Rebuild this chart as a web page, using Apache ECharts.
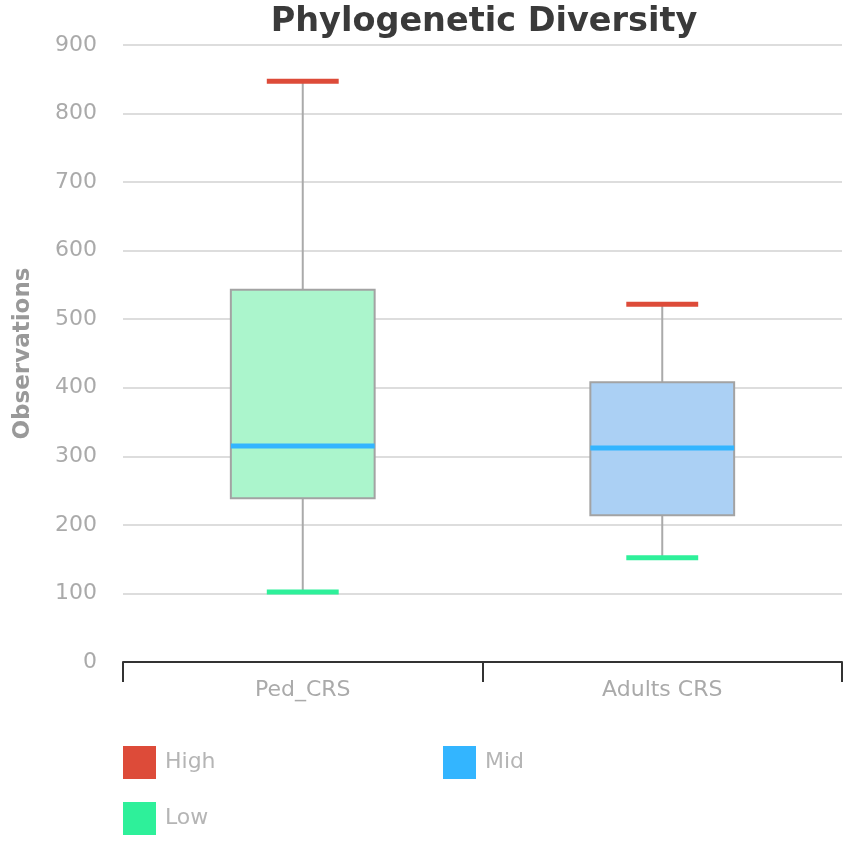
<!DOCTYPE html>
<html>
<head>
<meta charset="utf-8">
<script src="https://cdn.jsdelivr.net/npm/echarts@6/dist/echarts.min.js"></script>
<style>html,body{margin:0;padding:0;background:#fff}#c{width:843px;height:841px}</style>
</head>
<body>
<div id="c"></div>
<script>
const categories = ['Ped_CRS', 'Adults CRS'];
const highValues = [847, 522];
const q3Values = [543, 408];
const medianValues = [315, 312];
const q1Values = [239, 214];
const lowValues = [102, 152];
const yTicks = [0, 100, 200, 300, 400, 500, 600, 700, 800, 900];

const boxFills = ['#abf5cc', '#abd0f4'];
const FONT = '"DejaVu Sans", Verdana, sans-serif';

const chart = echarts.init(document.getElementById('c'));

const boxData = categories.map((c, i) => [i, lowValues[i], q1Values[i], q3Values[i], highValues[i]]);

function renderBox(params, api) {
  const i = api.value(0);
  const pLow = api.coord([i, api.value(1)]);
  const pQ1 = api.coord([i, api.value(2)]);
  const pQ3 = api.coord([i, api.value(3)]);
  const pHigh = api.coord([i, api.value(4)]);
  const w = api.size([1, 0])[0] * 0.4;
  const x = pLow[0];
  return {
    type: 'group',
    children: [
      { type: 'line', shape: { x1: x, y1: pHigh[1], x2: x, y2: pQ3[1] }, style: { stroke: '#aaaaaa', lineWidth: 2 } },
      { type: 'line', shape: { x1: x, y1: pQ1[1], x2: x, y2: pLow[1] }, style: { stroke: '#aaaaaa', lineWidth: 2 } },
      { type: 'rect', shape: { x: x - w / 2, y: pQ3[1], width: w, height: pQ1[1] - pQ3[1] },
        style: { fill: boxFills[i], stroke: '#a3a3a3', lineWidth: 2 } }
    ]
  };
}

function makeMark(frac, color) {
  return function (params, api) {
    const i = api.value(0);
    const p = api.coord([i, api.value(1)]);
    const w = api.size([1, 0])[0] * frac;
    return { type: 'rect', shape: { x: p[0] - w / 2, y: p[1] - 2.5, width: w, height: 5 }, style: { fill: color } };
  };
}

const colHigh = '#dd4b39', colMid = '#33b5ff', colLow = '#2ef09a';

const legendCommon = {
  icon: 'rect', itemWidth: 33, itemHeight: 33, itemGap: 10,
  textStyle: { color: '#b5b5b5', fontSize: 22, fontFamily: FONT, padding: [0, 0, 0, 4] },
  selectedMode: false
};

chart.setOption({
  animation: false,
  backgroundColor: '#fff',
  title: {
    text: 'Phylogenetic Diversity',
    left: 479, top: 0, textAlign: 'center',
    textStyle: { fontSize: 33.5, fontWeight: 'bold', color: '#3a3a3a', fontFamily: FONT }
  },
  legend: [
    Object.assign({ data: ['High'], left: 118, top: 741 }, legendCommon),
    Object.assign({ data: ['Mid'], left: 438, top: 741 }, legendCommon),
    Object.assign({ data: ['Low'], left: 118, top: 797 }, legendCommon)
  ],
  grid: { left: 123, right: 1, top: 45, bottom: 179, containLabel: false },
  xAxis: {
    type: 'category', data: categories, boundaryGap: true,
    axisLine: { lineStyle: { color: '#333', width: 2 } },
    axisTick: { show: true, length: 20, lineStyle: { color: '#333', width: 2 }, alignWithLabel: false },
    axisLabel: { color: '#aaaaaa', fontSize: 22, fontFamily: FONT, margin: 17 },
    splitLine: { show: false }
  },
  yAxis: {
    type: 'value', min: 0, max: 900, interval: 100,
    name: 'Observations', nameLocation: 'middle', nameGap: 88,
    nameTextStyle: { color: '#999999', fontSize: 23, fontWeight: 'bold', fontFamily: FONT },
    axisLine: { show: false }, axisTick: { show: false },
    axisLabel: { color: '#aaaaaa', fontSize: 22, fontFamily: FONT, margin: 26,
      formatter: v => yTicks.includes(v) ? String(v) : '' },
    splitLine: { lineStyle: { color: '#dddddd', width: 2 } }
  },
  series: [
    { type: 'custom', name: 'box', renderItem: renderBox, data: boxData, encode: { x: 0, y: [1, 2, 3, 4] }, z: 2 },
    { type: 'custom', name: 'High', renderItem: makeMark(0.2, colHigh), itemStyle: { color: colHigh },
      data: categories.map((c, i) => [i, highValues[i]]), encode: { x: 0, y: 1 }, z: 3 },
    { type: 'custom', name: 'Mid', renderItem: makeMark(0.4, colMid), itemStyle: { color: colMid },
      data: categories.map((c, i) => [i, medianValues[i]]), encode: { x: 0, y: 1 }, z: 3 },
    { type: 'custom', name: 'Low', renderItem: makeMark(0.2, colLow), itemStyle: { color: colLow },
      data: categories.map((c, i) => [i, lowValues[i]]), encode: { x: 0, y: 1 }, z: 3 }
  ]
});
</script>
</body>
</html>
